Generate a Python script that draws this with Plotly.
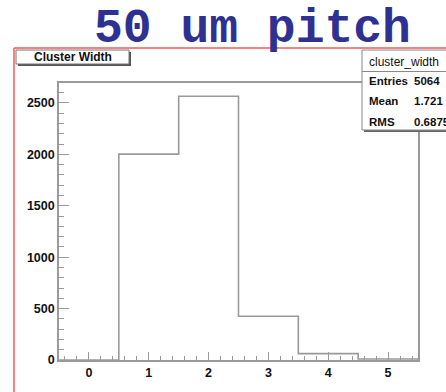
import plotly.graph_objects as go

# ---- data ----
bin_centers = [0, 1, 2, 3, 4, 5]
counts = [0, 2002, 2565, 425, 62, 10]
bin_width = 1.0
title_text = "50 um pitch"
hist_title = "Cluster Width"
stats_name = "cluster_width"
stats_labels = ["Entries", "Mean", "RMS"]
stats_values = ["5064", "1.721", "0.6875"]

# ---- geometry helpers (pixels -> paper) ----
W, H = 446, 392
L, R, T, B = 59, 418, 83, 360
def px(x):
    return (x - L) / (R - L)
def py(y):
    return (B - y) / (B - T)

# step outline built from the bin data
xs, ys = [], []
for c, n in zip(bin_centers, counts):
    xs += [c - bin_width / 2, c + bin_width / 2]
    ys += [n, n]
xs = [xs[0]] + xs + [xs[-1]]
ys = [0] + ys + [0]

GRAY = "#9a9a9a"
fig = go.Figure()
fig.add_trace(go.Scatter(x=xs, y=ys, mode="lines",
                         line=dict(color=GRAY, width=1.6, shape="linear"),
                         hoverinfo="skip", showlegend=False))

tickfont = dict(family="Liberation Sans, Arial", size=12.5, color="#111", weight="bold")
fig.update_layout(
    width=W, height=H,
    margin=dict(l=L, r=W - R, t=T, b=H - B),
    paper_bgcolor="white", plot_bgcolor="white",
    showlegend=False,
    xaxis=dict(range=[-0.5, 5.5], dtick=1, tick0=0, ticks="inside", ticklen=8,
               tickcolor=GRAY, tickwidth=1.2, showgrid=False, zeroline=False,
               showline=True, linecolor=GRAY, linewidth=1.6, mirror=True,
               tickfont=tickfont,
               minor=dict(dtick=0.2, ticks="inside", ticklen=4, tickcolor=GRAY, tickwidth=1.2, showgrid=False)),
    yaxis=dict(range=[0, 1.05 * max(counts)], dtick=500, tick0=0, ticks="inside", ticklen=10,
               tickcolor=GRAY, tickwidth=1.2, showgrid=False, zeroline=False,
               showline=True, linecolor=GRAY, linewidth=1.6, mirror=True,
               tickfont=tickfont,
               minor=dict(dtick=100, ticks="inside", ticklen=5, tickcolor=GRAY, tickwidth=1.2, showgrid=False)),
)

shapes = []
# red canvas border
shapes.append(dict(type="line", xref="paper", yref="paper", x0=px(14), x1=px(460), y0=py(48), y1=py(48),
                   line=dict(color="#f05a5a", width=1.5)))
shapes.append(dict(type="line", xref="paper", yref="paper", x0=px(14), x1=px(14), y0=py(48), y1=py(400),
                   line=dict(color="#f05a5a", width=1.5)))
# histogram title box with shadow
shapes.append(dict(type="rect", xref="paper", yref="paper", x0=px(18), x1=px(131), y0=py(52), y1=py(66),
                   line=dict(width=0), fillcolor="#555"))
shapes.append(dict(type="rect", xref="paper", yref="paper", x0=px(16), x1=px(129), y0=py(50), y1=py(64),
                   line=dict(color="#777", width=1), fillcolor="white"))
# stats box with shadow
shapes.append(dict(type="rect", xref="paper", yref="paper", x0=px(364), x1=px(470), y0=py(52), y1=py(132),
                   line=dict(width=0), fillcolor="#666"))
shapes.append(dict(type="rect", xref="paper", yref="paper", x0=px(362), x1=px(468), y0=py(50), y1=py(130),
                   line=dict(color="#888", width=1), fillcolor="white"))
shapes.append(dict(type="line", xref="paper", yref="paper", x0=px(362), x1=px(468), y0=py(71.5), y1=py(71.5),
                   line=dict(color="#888", width=1)))
fig.update_layout(shapes=shapes)

ann = []
ann.append(dict(text="<b>" + title_text + "</b>", xref="paper", yref="paper", x=px(252), y=py(29),
                xanchor="center", yanchor="middle", showarrow=False,
                font=dict(family="Liberation Mono, Courier New", size=48, color="#2e3192")))
ann.append(dict(text="<b>" + hist_title + "</b>", xref="paper", yref="paper", x=px(72.5), y=py(57),
                xanchor="center", yanchor="middle", showarrow=False,
                font=dict(family="Liberation Sans, Arial", size=12, color="#111")))
ann.append(dict(text=stats_name, xref="paper", yref="paper", x=px(367), y=py(62),
                xanchor="left", yanchor="middle", showarrow=False,
                font=dict(family="Liberation Sans, Arial", size=12, color="#111")))
rows_y = [81, 101.5, 122]
for lab, val, yy in zip(stats_labels, stats_values, rows_y):
    ann.append(dict(text="<b>" + lab + "</b>", xref="paper", yref="paper", x=px(367), y=py(yy),
                    xanchor="left", yanchor="middle", showarrow=False,
                    font=dict(family="Liberation Sans, Arial", size=11.5, color="#111")))
    ann.append(dict(text="<b>" + val + "</b>", xref="paper", yref="paper", x=px(412), y=py(yy),
                    xanchor="left", yanchor="middle", showarrow=False,
                    font=dict(family="Liberation Sans, Arial", size=11.5, color="#111")))
fig.update_layout(annotations=ann)

fig.write_html("out.html")
